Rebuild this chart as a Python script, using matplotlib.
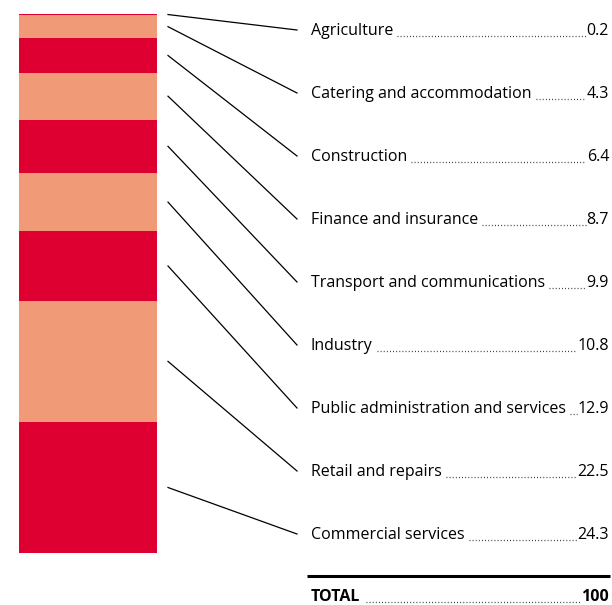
import matplotlib
matplotlib.use("Agg")
import matplotlib.pyplot as plt
import numpy as np

# dados
sectors = ["Agriculture", "Catering and accommodation", "Construction",
           "Finance and insurance", "Transport and communications", "Industry",
           "Public administration and services", "Retail and repairs",
           "Commercial services"]
shares = [0.2, 4.3, 6.4, 8.7, 9.9, 10.8, 12.9, 22.5, 24.3]
share_labels = ["0.2", "4.3", "6.4", "8.7", "9.9", "10.8", "12.9", "22.5", "24.3"]
total_label = "100"

RED = "#DD0031"
SALMON = "#F19A78"
W, H = 612, 605

plt.rcParams["font.family"] = ["Open Sans", "DejaVu Sans"]
fig = plt.figure(figsize=(W / 100, H / 100), dpi=100)

# barra empilhada
ax_bar = fig.add_axes([19 / W, (H - 553) / H, 138 / W, 539 / H])
bottoms = np.concatenate([[0], np.cumsum(shares)[:-1]])
colors = [RED if i % 2 == 0 else SALMON for i in range(len(shares))]
ax_bar.bar(0.5, shares, bottom=bottoms, width=1, color=colors, linewidth=0)
ax_bar.set_xlim(0, 1)
ax_bar.set_ylim(100, 0)
ax_bar.axis("off")

# camada de anotações em pixels
ax = fig.add_axes([0, 0, 1, 1])
ax.set_xlim(0, W)
ax.set_ylim(H, 0)
ax.axis("off")

fig.canvas.draw()
renderer = fig.canvas.get_renderer()
inv = ax.transData.inverted()

def text_right_edge(t):
    bb = t.get_window_extent(renderer)
    return inv.transform((bb.x1, bb.y0))[0]

def text_left_edge(t):
    bb = t.get_window_extent(renderer)
    return inv.transform((bb.x0, bb.y0))[0]

label_x = 311
value_x = 609
fs = 11.5
dots = dict(color="#222222", lw=0.9, linestyle=(0, (0.7, 1.8)), dash_capstyle="butt")

for i, (name, val, lab) in enumerate(zip(sectors, shares, share_labels)):
    ly = 31 + i * 63
    mid = bottoms[i] + val / 2
    sx, sy = inv.transform(ax_bar.transData.transform((1, mid)))
    ax.plot([sx + 11, 297], [sy, ly - 1], color="black", lw=0.9)
    t1 = ax.text(label_x, ly, name, fontsize=fs, va="center", ha="left")
    t2 = ax.text(value_x, ly, lab, fontsize=fs, va="center", ha="right")
    x0 = text_right_edge(t1) + 4
    x1 = text_left_edge(t2) - 1
    if x1 > x0:
        ax.plot([x0, x1], [ly + 5, ly + 5], **dots)

# total
ax.plot([307, 610], [576, 576], color="black", lw=2.2, solid_capstyle="butt")
t1 = ax.text(label_x, 597, "TOTAL", fontsize=fs, va="center", ha="left", fontweight="bold")
t2 = ax.text(value_x, 597, total_label, fontsize=fs, va="center", ha="right", fontweight="bold")
x0 = text_right_edge(t1) + 6
x1 = text_left_edge(t2) - 1
ax.plot([x0, x1], [602, 602], **dots)

fig.savefig("out.png", dpi=100)
